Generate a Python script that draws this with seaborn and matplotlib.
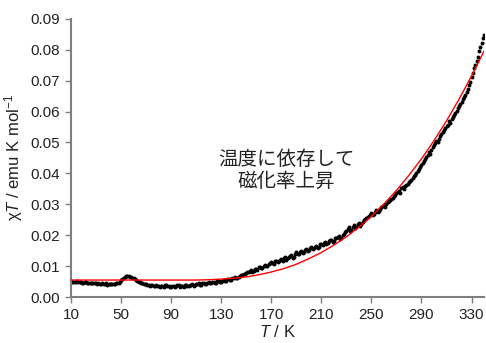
import numpy as np
import pandas as pd
import matplotlib
matplotlib.use("Agg")
import matplotlib.pyplot as plt
import seaborn as sns

# measured points, even temperatures T = 10, 12, ..., 340 K
temp_even = list(range(10, 341, 2))
chiT_even = [
    0.0051, 0.0050, 0.0049, 0.0050, 0.0048, 0.0047, 0.0048, 0.0046, 0.0045, 0.0046,
    0.0044, 0.0045, 0.0043, 0.0042, 0.0044, 0.0041, 0.0042, 0.0043, 0.0044, 0.0047,
    0.0054, 0.0062, 0.0067, 0.0068, 0.0065, 0.0060, 0.0055, 0.0050, 0.0046, 0.0043,
    0.0041, 0.0040, 0.0038, 0.0036, 0.0039, 0.0035, 0.0037, 0.0034, 0.0038, 0.0036,
    0.0033, 0.0037, 0.0035, 0.0039, 0.0036, 0.0032, 0.0038, 0.0036, 0.0040, 0.0037,
    0.0041, 0.0044, 0.0040, 0.0046, 0.0043, 0.0048, 0.0045, 0.0050, 0.0047, 0.0052,
    0.0050, 0.0055, 0.0053, 0.0058, 0.0056, 0.0063, 0.0060, 0.0066, 0.0070, 0.0073,
    0.0078, 0.0082, 0.0086, 0.0084, 0.0092, 0.0096, 0.0093, 0.0102, 0.0099, 0.0108,
    0.0112, 0.0107, 0.0118, 0.0115, 0.0122, 0.0126, 0.0121, 0.0131, 0.0136, 0.0130,
    0.0145, 0.0140, 0.0150, 0.0147, 0.0155, 0.0152, 0.0162, 0.0158, 0.0166, 0.0163,
    0.0172, 0.0176, 0.0170, 0.0182, 0.0186, 0.0180, 0.0192, 0.0197, 0.0190, 0.0205,
    0.0214, 0.0225, 0.0218, 0.0232, 0.0228, 0.0240, 0.0236, 0.0249, 0.0255, 0.0262,
    0.0272, 0.0268, 0.0283, 0.0279, 0.0290, 0.0298, 0.0302, 0.0312, 0.0318, 0.0326,
    0.0335, 0.0343, 0.0352, 0.0348, 0.0362, 0.0371, 0.0378, 0.0392, 0.0402, 0.0415,
    0.0428, 0.0440, 0.0452, 0.0468, 0.0476, 0.0492, 0.0505, 0.0512, 0.0528, 0.0540,
    0.0552, 0.0568, 0.0575, 0.0590, 0.0602, 0.0618, 0.0632, 0.0648, 0.0662, 0.0685,
    0.0712, 0.0740, 0.0765, 0.0795, 0.0822, 0.0848,
]

# measured points, odd temperatures T = 11, 13, ..., 339 K
temp_odd = list(range(11, 340, 2))
chiT_odd = [
    0.0050, 0.0049, 0.0051, 0.0048, 0.0047, 0.0049, 0.0046, 0.0047, 0.0045, 0.0044,
    0.0043, 0.0042, 0.0044, 0.0041, 0.0040, 0.0043, 0.0041, 0.0042, 0.0045, 0.0050,
    0.0058, 0.0065, 0.0069, 0.0066, 0.0063, 0.0058, 0.0052, 0.0048, 0.0044, 0.0042,
    0.0039, 0.0037, 0.0040, 0.0035, 0.0037, 0.0033, 0.0036, 0.0039, 0.0035, 0.0031,
    0.0036, 0.0034, 0.0038, 0.0033, 0.0036, 0.0039, 0.0035, 0.0038, 0.0042, 0.0039,
    0.0043, 0.0038, 0.0045, 0.0042, 0.0047, 0.0044, 0.0049, 0.0046, 0.0051, 0.0049,
    0.0053, 0.0051, 0.0057, 0.0055, 0.0061, 0.0064, 0.0062, 0.0068, 0.0072, 0.0076,
    0.0080, 0.0085, 0.0081, 0.0090, 0.0088, 0.0097, 0.0095, 0.0104, 0.0101, 0.0110,
    0.0109, 0.0115, 0.0113, 0.0120, 0.0118, 0.0128, 0.0125, 0.0134, 0.0127, 0.0140,
    0.0138, 0.0146, 0.0143, 0.0152, 0.0149, 0.0158, 0.0155, 0.0163, 0.0160, 0.0170,
    0.0168, 0.0179, 0.0176, 0.0185, 0.0178, 0.0190, 0.0195, 0.0188, 0.0200, 0.0210,
    0.0220, 0.0215, 0.0228, 0.0224, 0.0236, 0.0231, 0.0244, 0.0252, 0.0258, 0.0266,
    0.0266, 0.0276, 0.0274, 0.0286, 0.0294, 0.0292, 0.0308, 0.0315, 0.0322, 0.0330,
    0.0340, 0.0338, 0.0356, 0.0360, 0.0366, 0.0374, 0.0385, 0.0396, 0.0408, 0.0420,
    0.0434, 0.0446, 0.0458, 0.0462, 0.0484, 0.0498, 0.0500, 0.0520, 0.0534, 0.0546,
    0.0558, 0.0562, 0.0582, 0.0596, 0.0610, 0.0625, 0.0640, 0.0655, 0.0672, 0.0696,
    0.0725, 0.0752, 0.0778, 0.0808, 0.0838,
]

# fitted curve (red)
temp_fit = [10, 50, 100, 110, 120, 130, 140, 150, 160, 170, 180, 190, 200, 210, 220,
            230, 240, 250, 260, 270, 280, 290, 300, 310, 320, 330, 340]
chiT_fit = [0.0055, 0.0055, 0.0055, 0.0055, 0.0056, 0.0058, 0.0061, 0.0065, 0.0072,
            0.0081, 0.0092, 0.0106, 0.0124, 0.0144, 0.0168, 0.0195, 0.0226, 0.0261,
            0.0301, 0.0345, 0.0394, 0.0447, 0.0506, 0.0570, 0.0640, 0.0715, 0.0796]

x_ticks = [10, 50, 90, 130, 170, 210, 250, 290, 330]
y_ticks = [0.00, 0.01, 0.02, 0.03, 0.04, 0.05, 0.06, 0.07, 0.08, 0.09]
note_text = "温度に依存して\n磁化率上昇"

sns.set_style("ticks")
plt.rcParams["font.family"] = ["Liberation Sans", "DejaVu Sans"]
plt.rcParams["mathtext.fontset"] = "custom"
plt.rcParams["mathtext.rm"] = "Liberation Sans"
plt.rcParams["mathtext.it"] = "Liberation Sans:italic"

df_meas = pd.DataFrame({"T": temp_even + temp_odd, "chiT": chiT_even + chiT_odd})
df_fit = pd.DataFrame({"T": temp_fit, "chiT": chiT_fit})

fig = plt.figure(figsize=(4.86, 3.43), dpi=100)
ax = fig.add_axes([0.146, 0.134, 0.85, 0.811])

sns.scatterplot(data=df_meas, x="T", y="chiT", ax=ax, color="black", s=8,
                linewidth=0, zorder=2)
sns.lineplot(data=df_fit, x="T", y="chiT", ax=ax, color="red", linewidth=1.0,
             zorder=3)

ax.set_xlim(10, 340)
ax.set_ylim(0, 0.09)
ax.set_xticks(x_ticks)
ax.set_yticks(y_ticks)
ax.set_yticklabels([f"{v:.2f}" for v in y_ticks])

gray = "#7f7f7f"
for side in ["top", "right"]:
    ax.spines[side].set_visible(False)
for side in ["left", "bottom"]:
    ax.spines[side].set_color(gray)
    ax.spines[side].set_linewidth(1.5)
ax.tick_params(direction="out", length=4, width=1, color=gray,
               labelsize=11, labelcolor="#222222", pad=4)

ax.set_xlabel(r"$\it{T}$ / K", fontsize=12, color="#222222", labelpad=1)
ax.set_ylabel(r"χ$\it{T}$ / emu K mol$^{-1}$", fontsize=12, color="#222222",
              labelpad=4)

ax.text(182, 0.041, note_text, ha="center", va="center", fontsize=14,
        color="#222222", family=["Noto Sans CJK JP", "DejaVu Sans"],
        linespacing=1.05)

fig.savefig("out.png", dpi=100)
